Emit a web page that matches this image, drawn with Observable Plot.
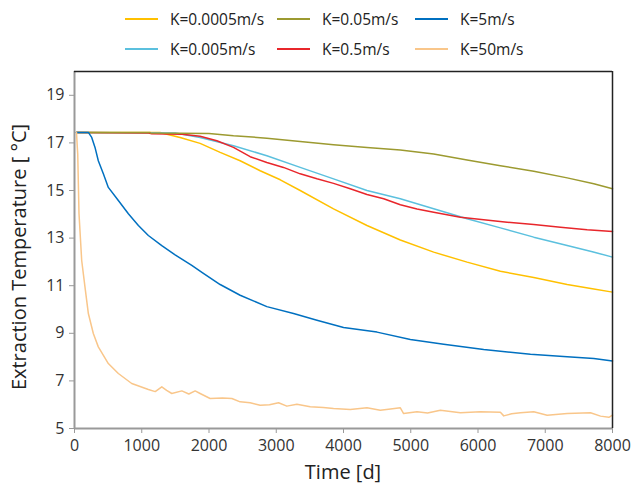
<!DOCTYPE html>
<html><head><meta charset="utf-8">
<script src="https://cdn.jsdelivr.net/npm/d3@7"></script>
<script src="https://cdn.jsdelivr.net/npm/@observablehq/plot@0.6"></script>
<style>
body{margin:0;background:#fff;font-family:"Open Sans",sans-serif;}
#wrap{position:relative;width:633px;height:491px;}
#legend{position:absolute;left:0;top:0;width:633px;height:65px;}
.item{position:absolute;display:flex;align-items:center;height:20px;font-size:15.5px;color:#222;white-space:nowrap;}
.sw{width:33px;height:0;border-top:2px solid;margin-right:12px;}
.title{position:absolute;font-size:20px;color:#222;white-space:nowrap;line-height:1;transform:translate(-50%,-50%);}
#ytitle{transform:translate(-50%,-50%) rotate(-90deg);}
</style></head><body>
<div id="wrap"><div id="chart"></div><div id="legend"></div><div class="title" id="ytitle" style="left:19px;top:257px;"></div><div class="title" id="xtitle" style="left:343px;top:472px;"></div></div>
<script>
const seriesNames = ["K=0.0005m/s","K=0.05m/s","K=5m/s","K=0.005m/s","K=0.5m/s","K=50m/s"];
const seriesColors = ["#FFC000","#9C9A30","#0070C0","#5BC0DE","#E8262B","#F9C68A"];
const xTicks = [0,1000,2000,3000,4000,5000,6000,7000,8000];
const yTicks = [5,7,9,11,13,15,17,19];
const xLabel = "Time [d]";
const yLabel = "Extraction Temperature [ °C]";

const k0005 = [[30,17.44],[1270,17.44],[1570,17.23],[1868,16.98],[2166,16.60],[2463,16.25],[2761,15.83],[3060,15.45],[3356,15.00],[3852,14.23],[4349,13.53],[4845,12.92],[5341,12.41],[5838,11.99],[6333,11.61],[6829,11.34],[7326,11.05],[7700,10.87],[8000,10.73]];
const k005 = [[30,17.44],[1500,17.42],[1868,17.23],[2364,16.88],[2860,16.46],[3356,15.97],[3852,15.49],[4349,15.00],[4845,14.65],[5341,14.23],[5838,13.81],[6333,13.43],[6829,13.04],[7326,12.69],[7700,12.43],[8000,12.20]];
const k05 = [[30,17.44],[1100,17.42],[1150,17.38],[1600,17.36],[1868,17.28],[2117,17.09],[2364,16.81],[2612,16.42],[2860,16.18],[3108,15.97],[3356,15.70],[3605,15.49],[3852,15.30],[4100,15.07],[4349,14.83],[4598,14.65],[4845,14.40],[5093,14.22],[5341,14.09],[5738,13.88],[6085,13.77],[6433,13.67],[6829,13.57],[7226,13.46],[7623,13.35],[8000,13.28]];
const k005b = [[30,17.44],[1120,17.44],[1130,17.42],[2000,17.40],[2364,17.30],[2860,17.20],[3356,17.06],[3852,16.92],[4349,16.81],[4845,16.70],[5341,16.53],[5838,16.28],[6333,16.04],[6829,15.81],[7326,15.53],[7722,15.28],[8000,15.07]];
const k5 = [[30,17.44],[206,17.44],[256,17.23],[305,16.81],[354,16.25],[429,15.70],[503,15.13],[652,14.58],[801,14.02],[950,13.53],[1098,13.11],[1298,12.68],[1496,12.30],[1744,11.85],[1900,11.55],[2166,11.05],[2463,10.60],[2860,10.12],[3257,9.83],[3605,9.55],[4001,9.24],[4498,9.05],[4994,8.74],[5490,8.54],[6085,8.32],[6780,8.12],[7326,8.01],[7722,7.94],[8000,7.84]];
const k50 = [[30,17.44],[40,16.9],[48,16.53],[67,14.02],[107,12.06],[156,10.94],[206,9.83],[280,8.99],[354,8.43],[503,7.73],[652,7.31],[851,6.89],[1099,6.64],[1200,6.55],[1298,6.75],[1370,6.60],[1447,6.47],[1596,6.58],[1700,6.45],[1794,6.58],[1868,6.47],[2017,6.26],[2200,6.28],[2340,6.26],[2463,6.12],[2612,6.08],[2761,5.98],[2900,6.00],[3034,6.08],[3158,5.94],[3307,6.02],[3505,5.91],[3700,5.88],[3852,5.84],[4100,5.80],[4349,5.87],[4547,5.77],[4700,5.82],[4845,5.87],[4894,5.63],[5093,5.70],[5250,5.65],[5440,5.77],[5738,5.66],[6035,5.70],[6333,5.68],[6383,5.53],[6500,5.62],[6631,5.66],[6829,5.70],[7028,5.56],[7326,5.63],[7673,5.66],[7822,5.52],[7946,5.47],[8000,5.56]];

const seriesData = [k0005, k005b, k5, k005, k05, k50];
const drawOrder = [0,3,4,1,2,5];

const lineMarks = drawOrder.map(i => Plot.line(seriesData[i], {x: d => d[0], y: d => d[1], stroke: seriesColors[i], strokeWidth: 1.5}));

const chart = Plot.plot({
  width: 633, height: 491,
  marginLeft: 74, marginRight: 21, marginTop: 71, marginBottom: 63,
  style: {fontFamily: "'Open Sans', sans-serif", fontSize: "16px", background: "transparent", color: "#222"},
  x: {domain: [0, 8000]},
  y: {domain: [5, 20]},
  marks: [
    Plot.axisY({ticks: yTicks, tickSize: 5, tickPadding: 5, stroke: "#999", fill: "#333", label: null, fontSize: 16}),
    Plot.axisX({ticks: xTicks, tickSize: 5, tickPadding: 6, stroke: "#999", fill: "#333", label: null, fontSize: 16, tickFormat: d => String(d)}),
    ...lineMarks,
    Plot.ruleX([0], {stroke: "#999", strokeWidth: 2}),
    Plot.ruleY([5], {stroke: "#999", strokeWidth: 2}),
    Plot.ruleY([20], {stroke: "#222", strokeWidth: 1.5}),
    Plot.ruleX([8000], {stroke: "#222", strokeWidth: 1.5})
  ]
});
document.getElementById("chart").appendChild(chart);
document.getElementById("xtitle").textContent = xLabel;
document.getElementById("ytitle").textContent = yLabel;

const colLeft = [125, 277, 415];
const rowCenter = [19, 49];
const legend = document.getElementById("legend");
seriesNames.forEach((name, i) => {
  const r = Math.floor(i / 3), c = i % 3;
  const el = document.createElement("div");
  el.className = "item";
  el.style.left = colLeft[c] + "px";
  el.style.top = (rowCenter[r] - 10) + "px";
  const sw = document.createElement("span");
  sw.className = "sw";
  sw.style.borderColor = seriesColors[i];
  el.appendChild(sw);
  el.appendChild(document.createTextNode(name));
  legend.appendChild(el);
});
</script>
</body></html>
